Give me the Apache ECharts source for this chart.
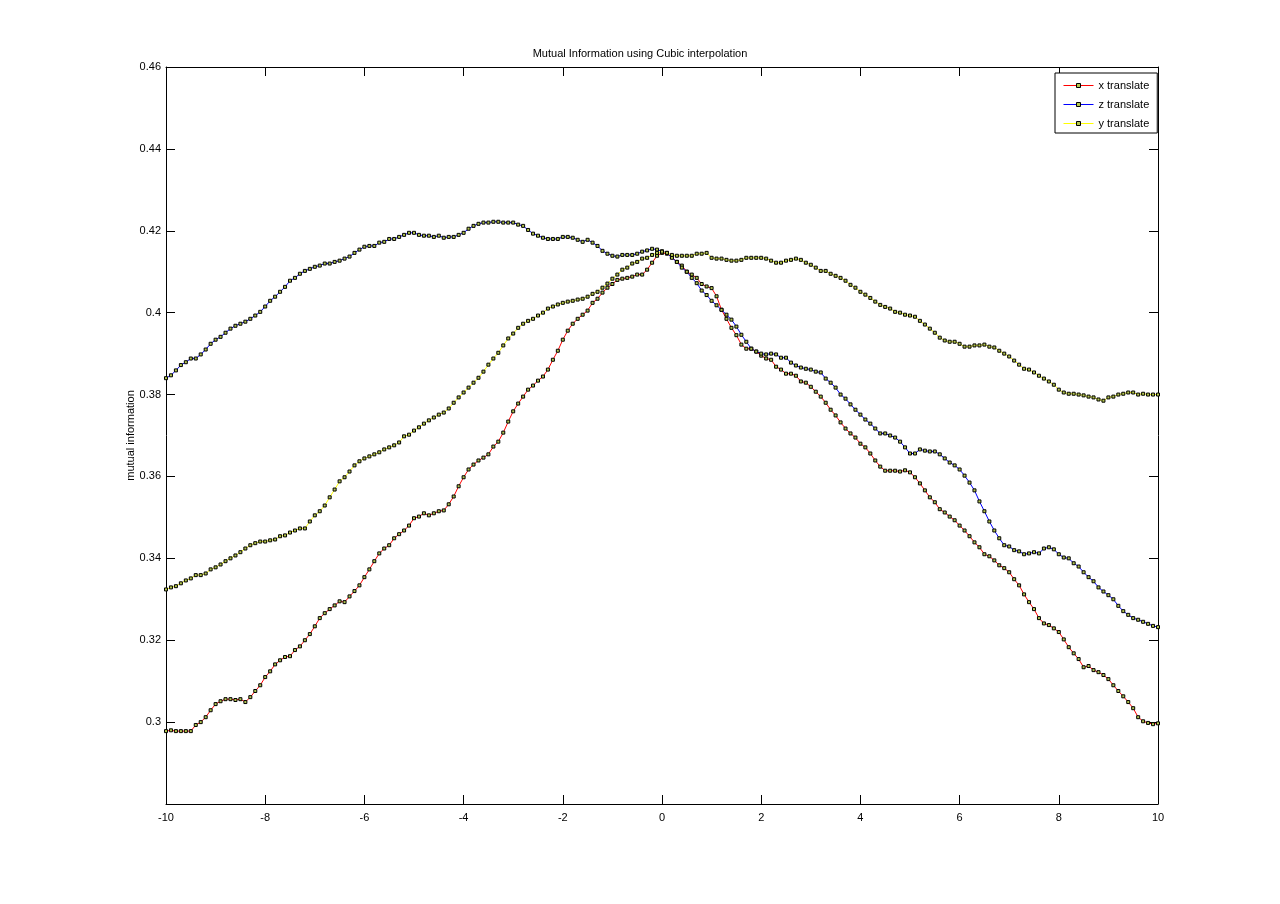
<!DOCTYPE html>
<html><head><meta charset="utf-8">
<script src="https://cdn.jsdelivr.net/npm/echarts@6/dist/echarts.min.js"></script>
<style>html,body{margin:0;padding:0;background:#fff}#c{width:1280px;height:904px}</style>
</head><body><div id="c"></div>
<script>
const TITLE = 'Mutual Information using Cubic interpolation';
const Y_NAME = 'mutual information';
const SERIES_NAMES = ['x translate', 'z translate', 'y translate'];
const SERIES_COLORS = ['#ff0000', '#0000ff', '#ffff00'];
const X_START = -10, X_STEP = 0.1;

const xTranslate = [
.2978,.2980,.2978,.2978,.2978,.2978,.2993,.3000,.3012,.3029,
.3044,.3051,.3056,.3056,.3054,.3056,.3049,.3061,.3076,.3090,
.3110,.3124,.3141,.3151,.3159,.3161,.3176,.3185,.3200,.3215,
.3234,.3254,.3266,.3276,.3285,.3295,.3293,.3307,.3320,.3334,
.3354,.3373,.3393,.3412,.3424,.3432,.3449,.3459,.3468,.3480,
.3498,.3502,.3510,.3505,.3510,.3515,.3517,.3532,.3551,.3576,
.3598,.3617,.3629,.3639,.3646,.3654,.3673,.3685,.3707,.3734,
.3759,.3778,.3795,.3812,.3822,.3834,.3844,.3861,.3885,.3907,
.3934,.3956,.3973,.3985,.3995,.4005,.4024,.4034,.4049,.4061,
.4070,.4080,.4083,.4085,.4088,.4093,.4093,.4105,.4122,.4139,
.4146,.4144,.4136,.4124,.4115,.4100,.4093,.4085,.4070,.4064,
.4060,.4040,.4007,.3985,.3963,.3945,.3922,.3912,.3912,.3905,
.3895,.3888,.3885,.3868,.3861,.3851,.3851,.3846,.3832,.3829,
.3819,.3807,.3795,.3780,.3763,.3749,.3732,.3717,.3705,.3695,
.3680,.3671,.3656,.3639,.3624,.3614,.3614,.3614,.3612,.3615,
.3610,.3598,.3583,.3566,.3549,.3537,.3520,.3512,.3502,.3493,
.3480,.3468,.3454,.3439,.3427,.3410,.3405,.3395,.3383,.3376,
.3366,.3349,.3334,.3312,.3293,.3276,.3254,.3241,.3237,.3229,
.3220,.3202,.3183,.3168,.3154,.3134,.3137,.3127,.3122,.3115,
.3105,.3090,.3076,.3063,.3049,.3034,.3012,.3002,.2998,.2995,
.2997];

const zTranslate = [
.3840,.3847,.3859,.3872,.3879,.3888,.3888,.3898,.3910,.3924,
.3934,.3941,.3951,.3961,.3968,.3973,.3978,.3985,.3993,.4002,
.4015,.4029,.4039,.4051,.4063,.4078,.4085,.4095,.4102,.4107,
.4112,.4115,.4120,.4120,.4124,.4127,.4132,.4137,.4146,.4154,
.4161,.4163,.4163,.4171,.4173,.4180,.4180,.4185,.4190,.4195,
.4195,.4190,.4188,.4188,.4185,.4188,.4183,.4185,.4185,.4190,
.4195,.4205,.4212,.4217,.4220,.4220,.4222,.4222,.4220,.4220,
.4220,.4215,.4212,.4202,.4193,.4188,.4183,.4180,.4180,.4180,
.4185,.4185,.4183,.4178,.4173,.4178,.4171,.4163,.4151,.4144,
.4139,.4137,.4141,.4141,.4141,.4144,.4149,.4152,.4156,.4154,
.4150,.4146,.4134,.4124,.4110,.4100,.4085,.4072,.4054,.4043,
.4029,.4018,.4007,.3995,.3983,.3966,.3946,.3929,.3912,.3905,
.3900,.3898,.3900,.3898,.3890,.3890,.3878,.3871,.3866,.3863,
.3861,.3856,.3854,.3839,.3829,.3817,.3800,.3790,.3776,.3763,
.3751,.3739,.3729,.3717,.3705,.3705,.3700,.3695,.3685,.3671,
.3656,.3656,.3666,.3663,.3661,.3661,.3654,.3644,.3634,.3627,
.3617,.3602,.3585,.3566,.3539,.3515,.3490,.3468,.3449,.3432,
.3429,.3420,.3417,.3410,.3412,.3415,.3412,.3424,.3427,.3422,
.3410,.3402,.3400,.3388,.3380,.3366,.3354,.3344,.3329,.3319,
.3310,.3300,.3284,.3271,.3262,.3254,.3250,.3245,.3240,.3235,
.3232];

const yTranslate = [
.3324,.3329,.3332,.3339,.3346,.3351,.3359,.3359,.3363,.3373,
.3378,.3385,.3393,.3400,.3407,.3415,.3424,.3432,.3437,.3441,
.3441,.3444,.3446,.3454,.3456,.3463,.3468,.3473,.3473,.3490,
.3505,.3515,.3529,.3549,.3568,.3588,.3598,.3612,.3627,.3637,
.3644,.3649,.3654,.3659,.3666,.3671,.3676,.3683,.3698,.3702,
.3712,.3720,.3729,.3737,.3744,.3751,.3756,.3766,.3780,.3793,
.3805,.3817,.3829,.3841,.3856,.3873,.3888,.3902,.3920,.3937,
.3949,.3963,.3973,.3980,.3985,.3993,.4000,.4010,.4015,.4020,
.4024,.4027,.4029,.4032,.4034,.4039,.4046,.4051,.4061,.4071,
.4083,.4093,.4105,.4110,.4120,.4124,.4132,.4134,.4141,.4146,
.4149,.4146,.4141,.4139,.4139,.4139,.4139,.4144,.4144,.4146,
.4134,.4132,.4132,.4129,.4127,.4127,.4129,.4134,.4134,.4134,
.4134,.4132,.4127,.4122,.4122,.4127,.4129,.4132,.4129,.4122,
.4117,.4110,.4102,.4102,.4095,.4090,.4085,.4078,.4068,.4061,
.4051,.4044,.4036,.4027,.4019,.4014,.4010,.4002,.4000,.3995,
.3993,.3990,.3980,.3971,.3961,.3951,.3939,.3932,.3929,.3929,
.3924,.3917,.3917,.3920,.3920,.3922,.3917,.3915,.3907,.3900,
.3893,.3883,.3873,.3863,.3861,.3854,.3846,.3839,.3832,.3824,
.3812,.3805,.3802,.3802,.3800,.3798,.3795,.3793,.3788,.3785,
.3793,.3795,.3800,.3802,.3805,.3805,.3800,.3802,.3800,.3800,
.3800];

const FONT = 'Liberation Sans, Arial, Helvetica, sans-serif';
function pairs(vals) {
  return vals.map((v, i) => [+(X_START + i * X_STEP).toFixed(1), v]);
}
const seriesData = [xTranslate, zTranslate, yTranslate];

const chart = echarts.init(document.getElementById('c'), null, {renderer: 'canvas'});
const axisCommon = {
  axisLine: {show: true, onZero: false, lineStyle: {color: '#000', width: 1}},
  axisTick: {show: true, inside: true, length: 9, lineStyle: {color: '#000', width: 1}},
  splitLine: {show: false}
};
const yFmt = v => (v < 0.29 ? '' : String(parseFloat(v.toFixed(2))));
chart.setOption({
  animation: false,
  backgroundColor: '#fff',
  title: {
    text: TITLE, left: 'center', top: 43,
    textStyle: {fontFamily: FONT, fontSize: 11, fontWeight: 'normal', color: '#000'}
  },
  grid: {left: 166, top: 67, width: 992, height: 737, containLabel: false},
  legend: {
    data: SERIES_NAMES.map((n, k) => ({
      name: n,
      lineStyle: {color: SERIES_COLORS[k], width: 1},
      itemStyle: {color: '#b4c850', borderColor: '#000', borderWidth: 1}
    })),
    orient: 'vertical', left: 1055, top: 73,
    padding: [6, 8, 3, 8],
    itemWidth: 30, itemHeight: 5, itemGap: 6,
    borderColor: '#000', borderWidth: 1, backgroundColor: '#fff',
    textStyle: {fontFamily: FONT, fontSize: 11, color: '#000', lineHeight: 13}
  },
  xAxis: [
    Object.assign({type: 'value', position: 'bottom', min: -10, max: 10, interval: 2,
      axisLabel: {fontFamily: FONT, fontSize: 11, color: '#000', margin: 8}}, axisCommon),
    Object.assign({type: 'value', position: 'top', min: -10, max: 10, interval: 2,
      axisLabel: {show: false}}, axisCommon)
  ],
  yAxis: [
    Object.assign({type: 'value', position: 'left', min: 0.28, max: 0.46, interval: 0.02,
      name: Y_NAME, nameLocation: 'middle', nameGap: 30, nameRotate: 90,
      nameMoveOverlap: false,
      nameTextStyle: {fontFamily: FONT, fontSize: 11, color: '#000'},
      axisLabel: {fontFamily: FONT, fontSize: 11, color: '#000', margin: 5, formatter: yFmt}}, axisCommon),
    Object.assign({type: 'value', position: 'right', min: 0.28, max: 0.46, interval: 0.02,
      axisLabel: {show: false}}, axisCommon)
  ],
  series: SERIES_NAMES.map((name, k) => ({
    name: name,
    type: 'line',
    data: pairs(seriesData[k]),
    symbol: 'rect',
    symbolSize: 3,
    showAllSymbol: true,
    lineStyle: {color: SERIES_COLORS[k], width: 1},
    itemStyle: {color: '#b4c850', borderColor: '#000', borderWidth: 1},
    emphasis: {disabled: true}
  }))
});
</script>
</body></html>
